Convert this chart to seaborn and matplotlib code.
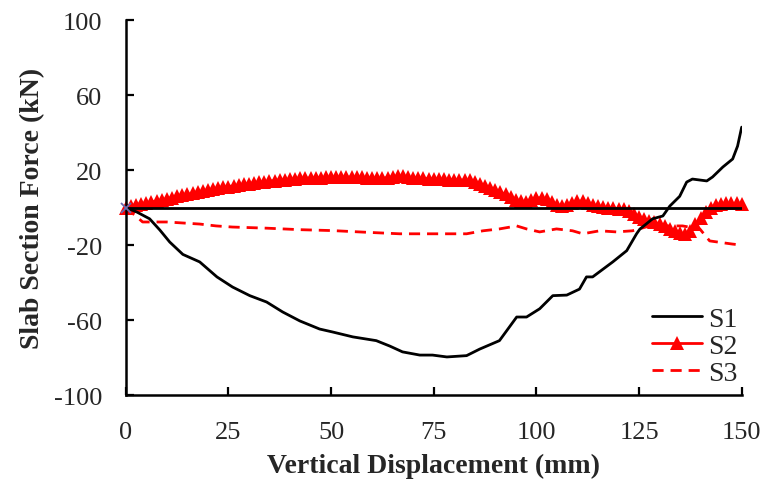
import numpy as np
import pandas as pd
import matplotlib
matplotlib.use("Agg")
import matplotlib.pyplot as plt
import seaborn as sns

# ---- data ----
S1_x = [0, 2.7, 5.8, 8.3, 10.7, 13.9, 18, 22.2, 26, 30.2, 34.3, 38.2, 42.4, 47.2, 50.4,
        55.3, 61, 64.3, 67.4, 71.6, 74.7, 78.2, 83, 86.2, 91, 95.2, 97.6, 100.8, 104,
        107.4, 110.5, 112.2, 113.7, 118.6, 122, 124.4, 125.2, 128.3, 130.8, 132.5, 134.9,
        136.6, 138, 141.5, 142.9, 145.4, 147.8, 149, 150]
S1_y = [0, -2.4, -6, -12, -18.4, -25, -29, -37, -42.4, -47, -50.4, -55.7, -60.5, -64.8, -66.4,
        -69, -71, -73.9, -77, -78.7, -78.7, -79.7, -79, -75.5, -71, -58.4, -58.4, -54, -47,
        -46.7, -43.5, -37, -37, -29, -23, -14, -11.5, -6, -4.5, 0.8, 6,
        13.6, 15.2, 14.2, 16.3, 21.6, 25.9, 32.8, 42.9]

S2_x = np.arange(0, 150.01, 1.25)
S2_y = [0, 1, 1.5, 2, 2.5, 3, 3.5, 4,
        4.8, 5.3, 6, 6.5, 7, 7.5, 8.2, 8.8,
        9.3, 9.8, 10.3, 10.8, 11.2, 11.6, 12, 12.4,
        12.8, 13.2, 13.5, 13.8, 14.1, 14.4, 14.7, 14.9,
        15.1, 15.3, 15.5, 15.6, 15.8, 15.9, 16, 16.1,
        16.2, 16.3, 16.3, 16.3, 16.3, 16.2, 16.1, 16,
        15.8, 15.6, 15.6, 16, 16.5, 16.8, 16.6, 16.2,
        15.9, 15.7, 15.5, 15.4, 15.3, 15.2, 15, 14.9,
        14.8, 14.7, 14.6, 14.5, 13.8, 12.5, 11.3, 10.3,
        9.3, 8.2, 7, 5.8, 4.2, 3.3, 3.2, 3.8,
        5, 5.3, 4.3, 3, 1.6, 0.8, 1.2, 2.4,
        3.3, 3.5, 2.5, 1.5, 0.6, 0.2, 0, -0.3,
        -0.6, -1, -1.8, -3.5, -5, -6.2, -7, -7.8,
        -8.8, -10, -11.2, -12.5, -13.8, -14, -12.5, -9,
        -5.5, -2.5, 0, 1.5, 2, 2.2, 2.2, 2.2,
        2]

S3_x = [0, 2.7, 4.1, 10, 18, 22, 26, 34.3, 42.4, 50.4, 58.7, 66.7, 74.7, 83, 87, 91,
        95.2, 97.6, 100.8, 104.9, 108.8, 111.3, 115.4, 119.5, 123.4, 127.6, 131.7, 135.6,
        139.8, 142.2, 147.8, 150]
S3_y = [0, -5, -7.7, -7.7, -8.8, -9.8, -10.4, -11, -11.8, -12.3, -13.2, -14, -14, -14, -12.4,
        -11.4, -9.8, -11.4, -13, -11.4, -12.4, -14, -12.4, -13, -12.4, -9.8, -9.8, -9.8,
        -11.4, -17.8, -19.5, -20]

x_ticks = [0, 25, 50, 75, 100, 125, 150]
y_ticks = [-100, -60, -20, 20, 60, 100]

# ---- style ----
sns.set_style("ticks")
plt.rcParams["font.family"] = ["Liberation Serif", "DejaVu Serif"]
plt.rcParams["axes.unicode_minus"] = False

fig = plt.figure(figsize=(7.67, 4.85), dpi=100)
ax = fig.add_axes([0.164, 0.1835, 0.803, 0.773])

df1 = pd.DataFrame({"x": S1_x, "y": S1_y})
df2 = pd.DataFrame({"x": S2_x, "y": S2_y})
df3 = pd.DataFrame({"x": S3_x, "y": S3_y})

ax.axhline(0, color="black", lw=2.0, zorder=3)

sns.lineplot(data=df2, x="x", y="y", ax=ax, color="#ff0000", lw=2.0, marker="^",
             markersize=10, markeredgewidth=0, sort=False, estimator=None,
             clip_on=False, zorder=2, label="S2")
sns.lineplot(data=df3, x="x", y="y", ax=ax, color="#ff0000", lw=2.0,
             linestyle=(0, (4, 2.5)), sort=False, estimator=None, zorder=2, label="S3")
sns.lineplot(data=df1, x="x", y="y", ax=ax, color="black", lw=2.0,
             sort=False, estimator=None, zorder=4, label="S1")
ax.plot([0], [0], marker="x", color="#6a6ab0", ms=7, mew=1.3, ls="none",
        clip_on=False, zorder=6)

ax.set_xlim(0, 150)
ax.set_ylim(-100, 100)
ax.set_xticks(x_ticks)
ax.set_yticks(y_ticks)
ax.tick_params(direction="in", length=6, width=1.6, labelsize=19, color="black")
ax.tick_params(axis="y", pad=17)
ax.tick_params(axis="x", pad=19)
for s in ["top", "right"]:
    ax.spines[s].set_visible(False)
for s in ["left", "bottom"]:
    ax.spines[s].set_linewidth(1.8)
    ax.spines[s].set_color("black")

ax.set_xlabel("Vertical Displacement (mm)", fontsize=20, fontweight="bold", labelpad=7)
ax.set_ylabel("Slab Section Force (kN)", fontsize=20, fontweight="bold", labelpad=6)

h, l = ax.get_legend_handles_labels()
order = [l.index("S1"), l.index("S2"), l.index("S3")]
leg = ax.legend([h[i] for i in order], [l[i] for i in order], loc="lower right",
                bbox_to_anchor=(1.012, -0.005), frameon=False, fontsize=20,
                handlelength=1.8, handletextpad=0.25, labelspacing=0.05,
                borderaxespad=0.0)

fig.savefig("out.png", dpi=100)
